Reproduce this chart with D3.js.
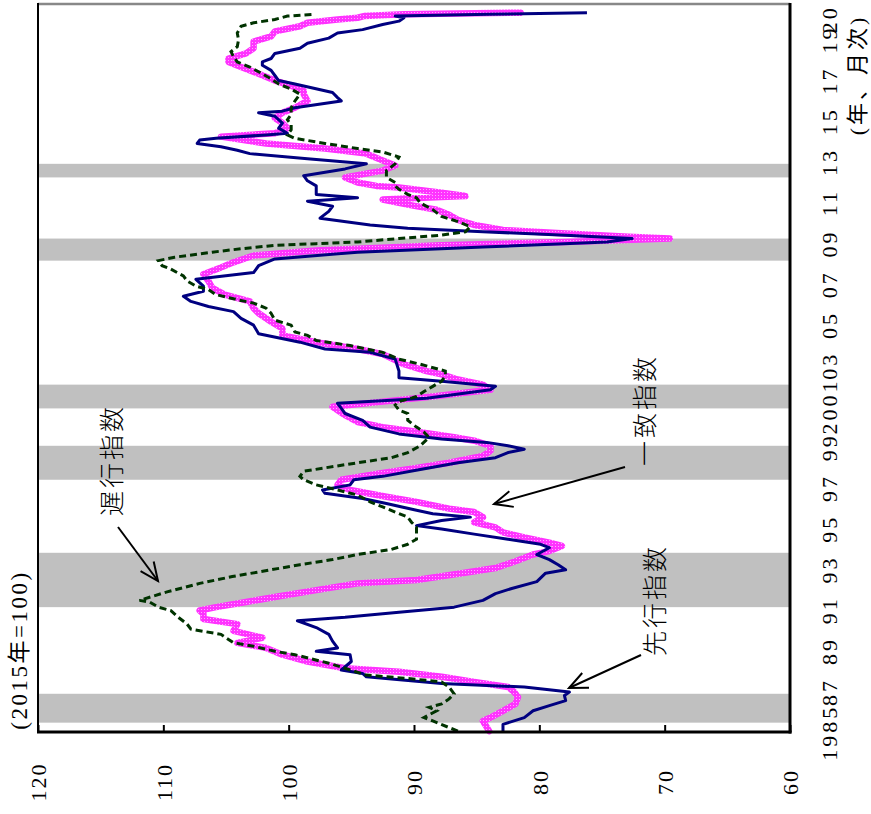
<!DOCTYPE html>
<html><head><meta charset="utf-8">
<script src="https://cdn.jsdelivr.net/npm/d3@7"></script>
<style>body{margin:0;background:#fff}svg{display:block}</style>
</head><body>
<script>
// ---------- DATA ----------
const valueTicks = [120,110,100,90,80,70,60];
const timeTickMonths = ["1985-01","1987-01","1989-01","1991-01","1993-01","1995-01","1997-01","1999-01","2001-01","2003-01","2005-01","2007-01","2009-01","2011-01","2013-01","2015-01","2017-01","2019-01","2020-01"];
const timeTickLabels = ["1985","87","89","91","93","95","97","99","2001","03","05","07","09","11","13","15","17","19","20"];
const recessionPeaks   = ["1985-06","1991-02","1997-05","2000-11","2008-02","2012-03"];
const recessionTroughs = ["1986-11","1993-10","1999-01","2002-01","2009-03","2012-11"];

// 先行指数 (leading)
const leadingIndex = [["1985-01",82.9],["1985-05",82.9],["1985-09",81.2],["1986-01",80.5],["1986-04",79.2],["1986-07",77.9],["1986-10",78.0],["1986-12",77.6],["1987-03",81.2],["1987-05",87.8],["1987-09",93.8],["1987-11",94.1],["1988-01",95.8],["1988-06",95.0],["1988-10",95.1],["1988-12",97.8],["1989-02",96.1],["1989-06",96.5],["1989-10",96.8],["1990-02",97.8],["1990-06",99.3],["1990-08",95.5],["1990-11",91.2],["1991-02",86.8],["1991-06",84.5],["1991-10",83.5],["1992-01",82.2],["1992-05",80.2],["1992-10",79.5],["1992-12",77.9],["1993-03",78.5],["1993-06",79.2],["1993-09",80.2],["1994-01",79.2],["1994-03",79.9],["1994-06",82.5],["1994-09",85.2],["1994-12",87.8],["1995-02",89.8],["1995-05",87.8],["1995-07",85.5],["1995-09",88.5],["1995-11",89.8],["1996-03",92.2],["1996-06",94.1],["1996-09",97.1],["1996-11",97.3],["1997-02",95.1],["1997-05",94.8],["1997-07",92.5],["1997-11",89.5],["1998-03",86.5],["1998-06",83.5],["1998-09",82.5],["1998-11",81.2],["1999-01",82.5],["1999-03",84.2],["1999-05",87.8],["1999-08",91.2],["1999-12",93.5],["2000-04",94.1],["2000-08",95.5],["2000-11",95.8],["2001-02",96.1],["2001-05",89.0],["2001-10",83.9],["2001-12",83.5],["2002-03",87.8],["2002-05",91.2],["2002-09",91.2],["2003-04",91.5],["2003-08",93.5],["2003-10",97.1],["2004-02",99.1],["2004-07",102.4],["2004-12",102.8],["2005-04",103.8],["2005-08",104.4],["2005-11",106.4],["2006-02",107.8],["2006-05",108.4],["2006-08",106.8],["2006-11",106.8],["2007-03",107.4],["2007-07",102.8],["2007-11",102.4],["2008-03",101.1],["2008-07",94.5],["2008-10",84.5],["2009-01",74.6],["2009-03",72.6],["2009-05",77.9],["2009-07",84.5],["2009-09",90.5],["2009-11",93.5],["2010-03",97.5],["2010-07",96.8],["2010-10",96.5],["2011-01",98.5],["2011-03",94.5],["2011-05",97.8],["2011-08",97.8],["2011-10",97.8],["2012-01",98.5],["2012-04",98.8],["2012-08",95.5],["2012-11",93.8],["2013-02",98.5],["2013-05",103.1],["2013-07",104.1],["2013-09",105.4],["2013-11",107.3],["2014-01",107.1],["2014-02",105.8],["2014-04",101.8],["2014-05",100.1],["2014-08",100.8],["2014-11",100.5],["2015-03",101.1],["2015-05",102.4],["2015-06",100.5],["2015-08",99.5],["2015-12",95.8],["2016-02",96.1],["2016-05",96.5],["2016-10",99.5],["2016-12",100.8],["2017-03",101.1],["2017-06",101.4],["2017-09",102.1],["2017-11",102.1],["2018-01",101.4],["2018-04",101.1],["2018-07",99.1],["2018-10",98.5],["2019-01",96.8],["2019-04",96.1],["2019-06",94.1],["2019-09",92.5],["2019-11",91.2],["2020-01",90.8],["2020-02",91.5],["2020-03",84.0],["2020-04",76.2]];

// 一致指数 (coincident)
const coincidentIndex = [["1985-01",84.0],["1985-07",84.5],["1985-09",83.9],["1986-01",82.9],["1986-05",81.9],["1986-09",81.7],["1986-12",82.0],["1987-03",82.5],["1987-06",85.2],["1987-09",87.8],["1987-12",91.2],["1988-02",95.5],["1988-06",98.5],["1988-10",100.5],["1989-02",101.8],["1989-05",104.1],["1989-08",102.1],["1989-12",104.4],["1990-04",104.1],["1990-07",106.8],["1990-10",106.8],["1990-12",107.1],["1991-02",105.8],["1991-05",103.4],["1991-08",101.1],["1991-12",97.8],["1992-04",94.5],["1992-06",89.8],["1992-10",86.2],["1993-01",83.5],["1993-05",81.9],["1993-09",80.5],["1993-11",79.2],["1994-02",78.2],["1994-04",79.2],["1994-07",81.2],["1994-10",82.9],["1995-01",83.5],["1995-04",85.2],["1995-07",84.5],["1995-10",85.2],["1995-12",87.2],["1996-04",89.8],["1996-07",92.2],["1996-11",95.1],["1997-02",96.1],["1997-05",95.8],["1997-09",92.5],["1997-12",89.8],["1998-03",87.2],["1998-07",84.5],["1998-10",83.9],["1999-01",83.9],["1999-04",85.2],["1999-06",86.8],["1999-09",89.5],["1999-12",92.5],["2000-03",94.5],["2000-07",95.5],["2000-12",96.5],["2001-03",92.5],["2001-06",88.5],["2001-10",83.9],["2002-01",84.5],["2002-04",86.5],["2002-07",87.8],["2002-09",89.0],["2003-01",90.8],["2003-07",92.5],["2003-10",94.5],["2004-02",97.8],["2004-06",100.5],["2004-10",100.5],["2005-02",101.4],["2005-07",102.4],["2005-10",102.8],["2006-02",103.1],["2006-06",105.1],["2006-10",106.1],["2007-02",106.4],["2007-06",106.8],["2007-10",105.4],["2008-01",104.4],["2008-05",102.8],["2008-08",97.8],["2008-11",87.8],["2009-01",77.9],["2009-03",69.6],["2009-04",72.9],["2009-06",77.9],["2009-08",82.9],["2009-11",85.2],["2010-02",86.5],["2010-05",87.2],["2010-08",88.2],["2010-11",90.5],["2011-02",92.5],["2011-04",85.9],["2011-06",87.8],["2011-09",91.2],["2011-10",93.0],["2011-12",94.5],["2012-03",95.5],["2012-07",92.5],["2012-10",91.5],["2013-01",92.5],["2013-05",93.8],["2013-08",97.1],["2013-11",101.8],["2014-03",105.4],["2014-05",101.1],["2014-08",100.1],["2014-11",100.5],["2015-02",101.1],["2015-05",100.5],["2015-08",99.5],["2015-12",98.5],["2016-04",98.8],["2016-06",98.8],["2016-09",99.8],["2016-12",101.1],["2017-04",102.4],["2017-08",103.8],["2017-11",104.8],["2018-01",104.8],["2018-04",103.4],["2018-07",102.8],["2018-11",102.8],["2019-02",101.4],["2019-05",101.1],["2019-08",99.1],["2019-10",98.5],["2019-12",96.1],["2020-01",94.5],["2020-02",94.0],["2020-03",90.8],["2020-04",81.5]];

// 遅行指数 (lagging)
const laggingIndex = [["1985-01",86.5],["1985-07",88.5],["1985-09",89.2],["1986-01",88.2],["1986-03",88.8],["1986-05",87.8],["1986-08",87.2],["1986-11",86.8],["1987-03",87.2],["1987-06",87.8],["1987-08",90.5],["1987-10",93.8],["1988-02",95.5],["1988-05",96.8],["1988-10",99.5],["1988-12",101.1],["1989-03",102.8],["1989-05",104.4],["1989-07",104.8],["1989-10",105.4],["1990-01",107.8],["1990-04",108.1],["1990-08",108.8],["1990-12",109.4],["1991-02",110.4],["1991-05",111.1],["1991-06",111.9],["1991-11",109.7],["1992-04",107.1],["1992-08",104.5],["1993-03",99.1],["1993-06",96.5],["1993-09",94.5],["1993-12",91.8],["1994-03",90.5],["1994-06",89.8],["1994-10",89.8],["1995-01",89.8],["1995-04",90.2],["1995-07",90.5],["1995-10",91.5],["1996-01",92.5],["1996-04",93.5],["1996-08",94.5],["1996-11",96.1],["1997-02",97.8],["1997-05",98.8],["1997-07",99.1],["1997-10",98.8],["1997-12",97.1],["1998-03",94.5],["1998-06",91.8],["1998-09",90.5],["1999-01",89.5],["1999-06",88.8],["1999-09",89.2],["1999-12",89.8],["2000-04",90.5],["2000-08",90.5],["2000-10",91.2],["2001-01",91.5],["2001-03",91.2],["2001-06",89.8],["2001-09",89.2],["2001-12",88.5],["2002-03",87.8],["2002-06",87.5],["2002-09",87.5],["2003-01",89.5],["2003-04",91.2],["2003-08",92.5],["2003-12",95.1],["2004-03",97.8],["2004-06",98.5],["2004-08",99.5],["2004-12",99.8],["2005-03",101.1],["2005-07",101.4],["2005-10",101.8],["2006-01",102.8],["2006-03",104.1],["2006-06",105.8],["2006-09",106.4],["2006-11",107.4],["2007-02",108.1],["2007-05",108.4],["2007-09",109.4],["2007-11",110.1],["2008-02",110.4],["2008-04",109.1],["2008-07",106.1],["2008-09",103.8],["2008-11",101.1],["2008-12",97.8],["2009-01",94.5],["2009-03",91.2],["2009-05",87.8],["2009-07",85.9],["2009-10",85.5],["2010-01",86.5],["2010-04",87.8],["2010-08",88.5],["2010-12",89.5],["2011-03",89.8],["2011-05",90.5],["2011-08",91.2],["2011-10",91.5],["2011-12",91.5],["2012-03",92.2],["2012-07",92.2],["2012-11",91.5],["2013-03",91.2],["2013-06",92.5],["2013-08",94.5],["2013-11",97.1],["2014-02",99.5],["2014-04",100.1],["2014-07",99.8],["2014-10",99.8],["2015-01",100.1],["2015-04",99.8],["2015-08",99.8],["2015-12",99.5],["2016-04",99.1],["2016-07",99.8],["2016-10",100.8],["2017-01",101.4],["2017-04",102.1],["2017-08",103.1],["2017-11",104.1],["2018-02",104.4],["2018-05",104.6],["2018-08",104.1],["2018-12",104.0],["2019-04",104.1],["2019-08",103.8],["2019-10",102.8],["2019-12",101.1],["2020-02",100.1],["2020-03",98.1]];

// ---------- CHART ----------
const W = 871, H = 814;
const plot = {left:38, right:790, top:5, bottom:732};
const monthIndex = s => { const [yy, mm] = s.split("-").map(Number); return (yy - 1985) * 12 + (mm - 1); };

const svg = d3.select("body").append("svg").attr("width", W).attr("height", H);
const x = d3.scaleLinear().domain([120, 60]).range([plot.left, plot.right]);
const y = d3.scaleLinear().domain([-0.5, 427.5]).range([plot.bottom, plot.top]);

const serif = "'Liberation Serif', 'Times New Roman', 'DejaVu Serif', 'Noto Sans CJK JP', serif";
const cjk = "'Noto Sans CJK JP', 'Noto Sans CJK SC', sans-serif";

const defs = svg.append("defs");
const pat = defs.append("pattern").attr("id", "mgPat").attr("patternUnits", "userSpaceOnUse").attr("width", 3).attr("height", 3);
pat.append("rect").attr("width", 3).attr("height", 3).attr("fill", "#ff33ff");
pat.append("rect").attr("width", 1).attr("height", 1).attr("fill", "#ffaaff");

// recession bands
svg.append("g").selectAll("rect").data(recessionPeaks.map((p, i) => [p, recessionTroughs[i]])).join("rect")
  .attr("x", plot.left).attr("width", plot.right - plot.left)
  .attr("y", d => y(monthIndex(d[1])))
  .attr("height", d => y(monthIndex(d[0])) - y(monthIndex(d[1])))
  .attr("fill", "#c0c0c0");

// lines
const line = d3.line().x(d => x(d[1])).y(d => y(monthIndex(d[0])));
svg.append("path").datum(coincidentIndex).attr("d", line).attr("fill", "none")
  .attr("stroke", "url(#mgPat)").attr("stroke-width", 6.5).attr("stroke-linejoin", "round").attr("stroke-linecap", "round");
svg.append("path").datum(leadingIndex).attr("d", line).attr("fill", "none")
  .attr("stroke", "#000080").attr("stroke-width", 3).attr("stroke-linejoin", "round");
svg.append("path").datum(laggingIndex).attr("d", line).attr("fill", "none")
  .attr("stroke", "#003300").attr("stroke-width", 3).attr("stroke-dasharray", "7,4");

// frame
svg.append("line").attr("x1", plot.left).attr("x2", plot.right).attr("y1", plot.top - 1).attr("y2", plot.top - 1).attr("stroke", "#888").attr("stroke-width", 2.5);
svg.append("line").attr("x1", plot.left).attr("x2", plot.left).attr("y1", plot.top - 2).attr("y2", plot.bottom).attr("stroke", "#000").attr("stroke-width", 2);
svg.append("line").attr("x1", plot.right).attr("x2", plot.right).attr("y1", plot.top - 2).attr("y2", plot.bottom + 1.5).attr("stroke", "#000").attr("stroke-width", 3);
svg.append("line").attr("x1", plot.left - 1).attr("x2", plot.right + 1.5).attr("y1", plot.bottom).attr("y2", plot.bottom).attr("stroke", "#000").attr("stroke-width", 3);

// value axis (bottom)
const gx = svg.append("g").attr("transform", `translate(0,${plot.bottom})`)
  .call(d3.axisBottom(x).tickValues(valueTicks).tickSize(-7).tickFormat(d => d));
gx.attr("font-family", null).attr("font-size", null);
gx.select(".domain").remove();
gx.selectAll(".tick line").attr("stroke", "#000").attr("stroke-width", 2);
gx.selectAll(".tick text").attr("y", 0).attr("dy", "0.35em").attr("text-anchor", "middle")
  .attr("transform", "translate(0,50) rotate(-90)")
  .style("font-family", serif).style("font-size", "22px").style("letter-spacing", "2px").attr("fill", "#000");

// time axis (right)
const gy = svg.append("g").attr("transform", `translate(${plot.right},0)`)
  .call(d3.axisRight(y).tickValues(timeTickMonths.map(monthIndex)).tickSize(0).tickFormat((d, i) => timeTickLabels[i]));
gy.attr("font-family", null).attr("font-size", null);
gy.select(".domain").remove();
gy.selectAll(".tick text").attr("x", 0).attr("dy", "0.35em").attr("text-anchor", "middle")
  .attr("transform", "translate(39,1) rotate(-90)")
  .style("font-family", serif).style("font-size", "22px").style("letter-spacing", "3px").attr("fill", "#000");

// texts
function vtext(cx, cy, str, family, size, weight, spacing) {
  svg.append("text").attr("transform", `translate(${cx},${cy}) rotate(-90)`)
    .attr("text-anchor", "middle").attr("dy", "0.35em")
    .style("font-family", family).style("font-size", size + "px").style("font-weight", weight || 400)
    .style("letter-spacing", (spacing || 0) + "px")
    .attr("fill", "#000").text(str);
}
vtext(19, 650, "(2015年=100)", serif, 23, 400, 2.5);
vtext(857, 75, "(年、月次)", serif, 22, 400, 3);
vtext(655, 600, "先行指数", cjk, 25, 300, 3);
vtext(645, 410, "一致指数", cjk, 25, 300, 3);
vtext(112, 460, "遅行指数", cjk, 25, 300, 3);

// arrows
function arrow(x1, y1, x2, y2) {
  const g = svg.append("g").attr("stroke", "#000").attr("stroke-width", 2).attr("fill", "none");
  g.append("line").attr("x1", x1).attr("y1", y1).attr("x2", x2).attr("y2", y2);
  const a = Math.atan2(y1 - y2, x1 - x2), L = 20, s = 0.42;
  g.append("path").attr("d", `M${x2 + L * Math.cos(a + s)},${y2 + L * Math.sin(a + s)}L${x2},${y2}L${x2 + L * Math.cos(a - s)},${y2 + L * Math.sin(a - s)}`);
}
arrow(641, 655, 569, 688);
arrow(625, 467, 494, 504);
arrow(118, 527, 158, 581);
</script>
</body></html>
